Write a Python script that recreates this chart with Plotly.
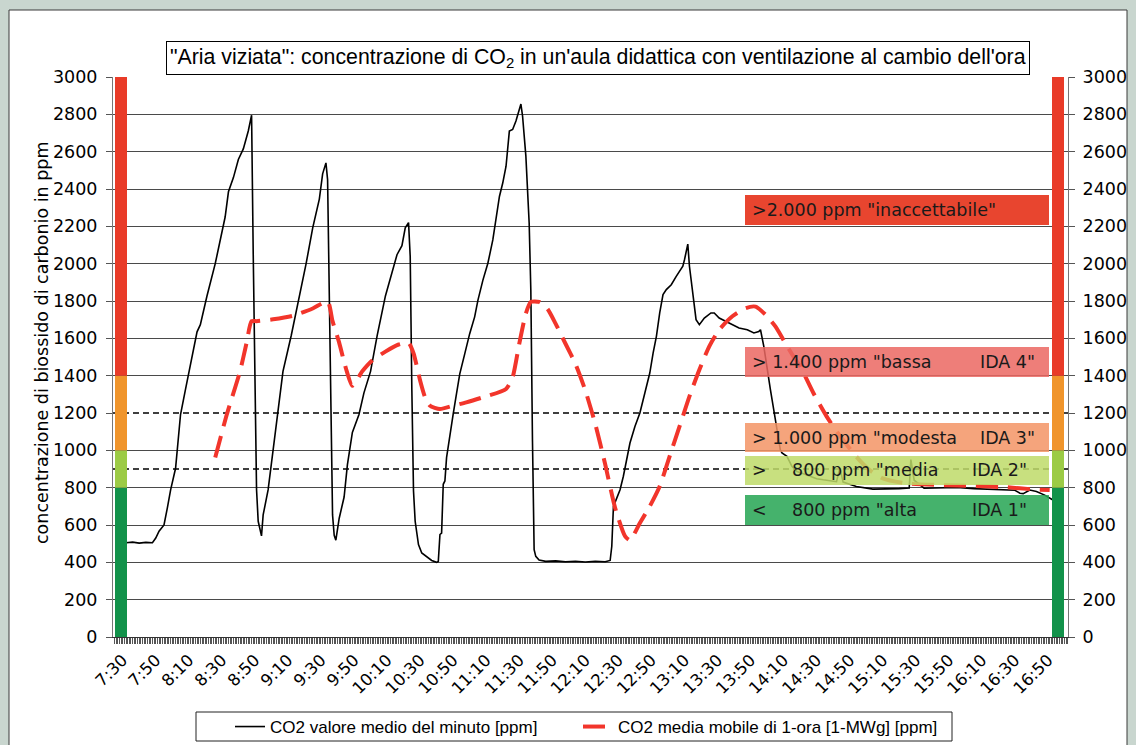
import plotly.graph_objects as go

# ---------------- data ----------------
# x labels (every 20 minutes, starting 7:30)
tick_labels = ["7:30", "7:50", "8:10", "8:30", "8:50", "9:10", "9:30", "9:50", "10:10", "10:30",
               "10:50", "11:10", "11:30", "11:50", "12:10", "12:30", "12:50", "13:10", "13:30",
               "13:50", "14:10", "14:30", "14:50", "15:10", "15:30", "15:50", "16:10", "16:30", "16:50"]

# CO2 minute values: minutes after 7:30 and ppm
black_minutes = [2, 6, 10, 14, 18, 20, 22, 25, 27, 29, 32, 35, 38, 41, 45, 47, 51, 56, 59, 62,
                 64, 67, 70, 73, 76, 78, 79, 80, 81, 82, 83, 84, 85, 88, 91, 94, 97, 102, 107, 111,
                 115, 119, 121, 123, 124, 125, 126, 127, 128, 129, 131, 134, 136, 139, 143, 146, 150, 154, 159, 163,
                 166, 169, 171, 173, 174, 175, 176, 177, 179, 181, 184, 187, 190, 191, 192, 193, 194, 195, 196, 198,
                 200, 202, 204, 207, 210, 213, 215, 218, 221, 224, 226, 228, 230, 232, 234, 236, 238, 241, 242, 244,
                 246, 247, 248, 249, 250, 252, 256, 262, 268, 274, 280, 286, 292, 295, 296, 297, 299, 301, 303, 305,
                 307, 310, 313, 316, 319, 321, 323, 325, 327, 329, 332, 335, 337, 339, 340, 342, 343, 345, 347, 349,
                 352, 356, 358, 361, 365, 369, 373, 378, 382, 385, 386, 388, 390, 392, 394, 396, 398, 399, 402, 405,
                 408, 412, 416, 420, 424, 432, 434, 436, 444, 454, 470, 476, 477, 479, 485, 495, 505, 515, 525, 533,
                 540, 543, 545, 549, 553, 558, 563]
black_ppm = [505, 508, 503, 507, 505, 530, 567, 600, 690, 788, 904, 1192, 1327, 1461, 1635, 1673, 1827, 2000, 2134, 2250,
             2385, 2461, 2558, 2615, 2711, 2795, 2050, 1270, 790, 620, 570, 542, 654, 788, 1000, 1211, 1423, 1615, 1827, 2000,
             2192, 2346, 2481, 2540, 2450, 1846, 1077, 654, 545, 519, 635, 750, 923, 1096, 1192, 1308, 1423, 1615, 1827, 1961,
             2048, 2096, 2192, 2220, 2038, 1320, 782, 620, 495, 450, 432, 410, 400, 405, 549, 557, 818, 836, 961, 1087,
             1194, 1302, 1410, 1517, 1625, 1715, 1805, 1912, 2002, 2127, 2235, 2360, 2432, 2522, 2710, 2719, 2764, 2855, 2791, 2576,
             2217, 1858, 1050, 468, 432, 412, 405, 408, 403, 406, 402, 406, 403, 410, 486, 700, 744, 789, 861, 950,
             1039, 1128, 1200, 1307, 1414, 1521, 1611, 1736, 1834, 1861, 1887, 1932, 1959, 1986, 2021, 2105, 1986, 1825, 1700, 1673,
             1709, 1736, 1736, 1709, 1691, 1673, 1655, 1646, 1629, 1637, 1646, 1557, 1432, 1325, 1218, 1111, 1003, 986, 968, 914,
             887, 875, 862, 848, 842, 832, 905, 830, 806, 792, 795, 798, 950, 840, 797, 800, 801, 795, 790, 788,
             786, 770, 768, 787, 780, 760, 734]

# 1-hour moving average
avg_minutes = [56, 63, 71, 75, 78, 81, 91, 103, 115, 124, 127, 131, 135, 139, 145, 151, 159, 167, 173, 176,
               180, 183, 186, 192, 200, 208, 218, 232, 236, 240, 244, 247, 252, 257, 262, 268, 274, 280, 286, 292,
               298, 304, 307, 313, 319, 325, 331, 337, 343, 349, 355, 361, 369, 377, 383, 389, 395, 401, 406, 410,
               418, 426, 433, 444, 452, 460, 474, 495, 515, 535, 551, 561]
avg_ppm = [961, 1192, 1423, 1577, 1692, 1692, 1702, 1721, 1760, 1798, 1692, 1577, 1442, 1346, 1423, 1481, 1529, 1567, 1575, 1520,
           1374, 1284, 1239, 1221, 1239, 1257, 1284, 1329, 1392, 1571, 1733, 1795, 1795, 1759, 1679, 1571, 1463, 1320, 1141, 925,
           692, 540, 518, 611, 700, 807, 968, 1128, 1289, 1432, 1557, 1646, 1718, 1762, 1770, 1727, 1664, 1575, 1502, 1450,
           1307, 1182, 1090, 966, 895, 850, 823, 814, 809, 802, 791, 787]

# reference dashed levels
ref_levels = [1200, 900]

# colour scale bars on both sides (ppm edges, bottom to top)
band_edges = [0, 800, 1000, 1400, 3000]
band_colors = ["#12924A", "#9CCB45", "#F0952C", "#E93B28"]

# IDA class labels
label_bottom = [2207, 1393, 991, 814, 600]
label_top = [2368, 1554, 1146, 970, 761]
label_fill = ["#E4240B", "#EB6762", "#F39465", "#BEDA68", "#25A552"]
label_left = ['>2.000 ppm "inaccettabile"', '> 1.400 ppm "bassa', '> 1.000 ppm "modesta', '>', '<']
label_mid = ['', '', '', '800 ppm "media', '800 ppm "alta']
label_right = ['', 'IDA 4"', 'IDA 3"', 'IDA 2"', 'IDA 1"']

# ---------------- geometry helpers (pixel -> paper) ----------------
L, R, T, B = 113, 68, 77, 108
W, H = 1136, 745
PW, PH = W - L - R, H - T - B


def px(x):
    return (x - L) / PW


def py(y):
    return (H - B - y) / PH


TICK = "DejaVu Sans"
TXT = "Liberation Sans"

fig = go.Figure()

x0r, x1r = -5.87, 572.1

# white underlay + dashed reference levels
for lvl in ref_levels:
    fig.add_trace(go.Scatter(x=[x0r, x1r], y=[lvl, lvl], mode="lines",
                             line=dict(color="white", width=3), showlegend=False, hoverinfo="skip"))
    fig.add_trace(go.Scatter(x=[x0r, x1r], y=[lvl, lvl], mode="lines",
                             line=dict(color="black", width=1.5, dash="6px,4px"),
                             showlegend=False, hoverinfo="skip"))

fig.add_trace(go.Scatter(x=black_minutes, y=black_ppm, mode="lines",
                         name="CO2 valore medio del minuto [ppm]", legend="legend",
                         line=dict(color="black", width=1.6)))
fig.add_trace(go.Scatter(x=avg_minutes, y=avg_ppm, mode="lines",
                         name="CO2 media mobile di 1-ora [1-MWg] [ppm]", legend="legend2",
                         line=dict(color="#F2352B", width=4, dash="22px,10px", shape="spline", smoothing=0.6)))
# anchor for the right axis and the per-minute tick axis
fig.add_trace(go.Scatter(x=[x0r], y=[0], xaxis="x2", yaxis="y2", mode="markers", marker=dict(opacity=0),
                         showlegend=False, hoverinfo="skip"))

shapes = []
shapes.append(dict(type="rect", xref="paper", yref="paper", x0=px(9), x1=px(1127), y0=py(760), y1=py(10),
                   fillcolor="white", line=dict(color="#3a3a3a", width=1), layer="below"))
for i in range(len(band_colors)):
    for xa, xb in [(115, 127), (1052, 1064)]:
        shapes.append(dict(type="rect", xref="paper", yref="y", x0=px(xa), x1=px(xb),
                           y0=band_edges[i], y1=band_edges[i + 1], fillcolor=band_colors[i],
                           line=dict(width=0), layer="above"))
for i in range(len(label_fill)):
    shapes.append(dict(type="rect", xref="paper", yref="y", x0=px(745), x1=px(1049),
                       y0=label_bottom[i], y1=label_top[i], fillcolor=label_fill[i], opacity=0.85,
                       line=dict(width=0), layer="above"))
shapes.append(dict(type="rect", xref="paper", yref="paper", x0=px(196), x1=px(952), y0=py(741), y1=py(712),
                   fillcolor="white", line=dict(color="#222", width=1), layer="below"))

annotations = []
for i in range(len(label_fill)):
    yc = (label_bottom[i] + label_top[i]) / 2
    annotations.append(dict(xref="paper", yref="y", x=px(750), y=yc, text=label_left[i], showarrow=False,
                            xanchor="left", yanchor="middle", font=dict(family=TICK, size=17.5, color="#1a1a1a")))
    if label_mid[i]:
        annotations.append(dict(xref="paper", yref="y", x=px(790), y=yc, text=label_mid[i], showarrow=False,
                                xanchor="left", yanchor="middle",
                                font=dict(family=TICK, size=17.5, color="#1a1a1a")))
    if label_right[i]:
        xr = 1037 if i in (1, 2) else 1029
        annotations.append(dict(xref="paper", yref="y", x=px(xr), y=yc, text=label_right[i], showarrow=False,
                                xanchor="right", yanchor="middle",
                                font=dict(family=TICK, size=17.5, color="#1a1a1a")))

annotations.append(dict(xref="paper", yref="paper", x=px(598), y=py(58),
                        text="\"Aria viziata\": concentrazione di CO<sub>2</sub> in un'aula didattica con ventilazione al cambio dell'ora",
                        showarrow=False, xanchor="center", yanchor="middle",
                        font=dict(family=TXT, size=21.3, color="black"),
                        bordercolor="black", borderwidth=1, borderpad=3, bgcolor="white"))
annotations.append(dict(xref="paper", yref="paper", x=px(42), y=py(343),
                        text="concentrazione di biossido di carbonio in ppm", textangle=-90,
                        showarrow=False, xanchor="center", yanchor="middle",
                        font=dict(family=TICK, size=17.5, color="black")))

fig.update_layout(
    template="none",
    width=W, height=H, autosize=False,
    margin=dict(l=L, r=R, t=T, b=B, pad=0, autoexpand=False),
    paper_bgcolor="#C9D6CF", plot_bgcolor="white",
    shapes=shapes, annotations=annotations,
    showlegend=True,
    legend=dict(orientation="h", x=px(230), xanchor="left", y=py(727), yanchor="middle",
                bgcolor="rgba(0,0,0,0)", borderwidth=0,
                font=dict(family=TXT, size=17, color="black")),
    legend2=dict(orientation="h", x=px(578), xanchor="left", y=py(727), yanchor="middle",
                 bgcolor="rgba(0,0,0,0)", borderwidth=0,
                 font=dict(family=TXT, size=17, color="black")),
    xaxis=dict(range=[x0r, x1r], tickmode="array", tickvals=[20 * i for i in range(len(tick_labels))],
               ticktext=tick_labels, tickangle=-45, tickfont=dict(family=TICK, size=16.5, color="black"),
               ticks="outside", ticklen=6, tickcolor="#333", showgrid=False, zeroline=False,
               showline=True, linecolor="#333", linewidth=1, automargin=False),
    xaxis2=dict(range=[x0r, x1r], overlaying="x", side="bottom", anchor="y", matches="x",
                tickmode="linear", tick0=0, dtick=1, ticks="outside", ticklen=6, tickcolor="#555",
                tickwidth=1, showticklabels=False, showgrid=False, zeroline=False, showline=False,
                automargin=False),
    yaxis=dict(range=[0, 3000], dtick=200, tickfont=dict(family=TICK, size=17.5, color="black"),
               ticks="outside", ticklen=6, tickcolor="#555", ticklabelstandoff=5,
               showgrid=True, gridcolor="#4a4a4a", gridwidth=1, zeroline=False,
               showline=True, linecolor="#777", linewidth=1, automargin=False),
    yaxis2=dict(range=[0, 3000], dtick=200, overlaying="y", side="right", matches="y",
                tickfont=dict(family=TICK, size=17.5, color="black"),
                ticks="outside", ticklen=6, tickcolor="#555", ticklabelstandoff=4,
                showgrid=False, zeroline=False, showline=True, linecolor="#777", linewidth=1,
                automargin=False),
)

# remove the browser's default page margin so the figure fills the window
fig.write_html("out.html", config={"displayModeBar": False},
               post_script="document.body.style.margin='0px';document.body.style.overflow='hidden';")
